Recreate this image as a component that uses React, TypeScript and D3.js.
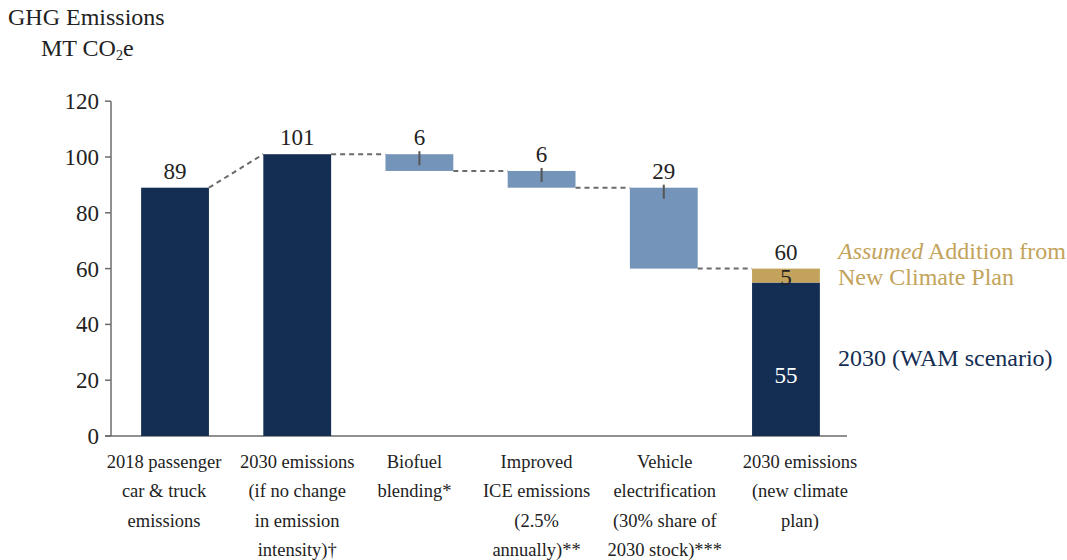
import React from "react";
import * as d3 from "d3";

const categories: string[][] = [
  ["2018 passenger", "car & truck", "emissions"],
  ["2030 emissions", "(if no change", "in emission", "intensity)†"],
  ["Biofuel", "blending*"],
  ["Improved", "ICE emissions", "(2.5%", "annually)**"],
  ["Vehicle", "electrification", "(30% share of", "2030 stock)***"],
  ["2030 emissions", "(new climate", "plan)"],
];
// kind: total bars, decrease bars, final stacked bar
const kinds = ["total", "total", "decrease", "decrease", "decrease", "final"];
const values = [89, 101, -6, -6, -29, 55];
const additions = [0, 0, 0, 0, 0, 5];
const yTicks = [0, 20, 40, 60, 80, 100, 120];

// layout: horizontal nudge of each category label relative to its bar centre
const LABEL_NUDGE = [-11, 0, -5, -5, 1, 14];

const NAVY = "#142d52";
const BLUE = "#7494ba";
const GOLD = "#c3a35b";
const AXIS = "#6b6b6b";
const FS = { fontFamily: "Liberation Serif" };
const BIG = 23;
const LEG = 24;
const CAT = 18.5;

export default function App() {
  const W = 1067, H = 560;
  const y = d3.scaleLinear().domain([0, 120]).range([436, 101.2]);
  const x = d3
    .scaleBand<number>()
    .domain(d3.range(categories.length))
    .range([114, 847])
    .paddingInner(0.445)
    .paddingOuter(0.222);

  let running = 0;
  const bars = values.map((v, i) => {
    const k = kinds[i];
    if (k === "total") {
      running = v;
      return { i, lo: 0, hi: v, color: NAVY, label: String(v), end: v };
    }
    if (k === "decrease") {
      const hi = running;
      const lo = running + v;
      running = lo;
      return { i, lo, hi, color: BLUE, label: String(-v), end: lo };
    }
    const total = v + additions[i];
    return { i, lo: 0, hi: v, color: NAVY, label: String(total), end: total };
  });

  const bw = x.bandwidth();

  const connectors: { x1: number; y1: number; x2: number; y2: number }[] = [];
  for (let i = 0; i < bars.length - 1; i++) {
    const a = bars[i];
    const b = bars[i + 1];
    const toV = kinds[i + 1] === "final" ? b.hi + additions[i + 1] : b.hi;
    connectors.push({
      x1: (x(i) as number) + bw,
      y1: y(a.end),
      x2: x(i + 1) as number,
      y2: y(toV),
    });
  }

  return (
    <svg
      width={W}
      height={H}
      style={{ position: "absolute", left: 0, top: 0, background: "#fff" }}
    >
      <text x={8} y={25} fontSize={LEG} fill="#222" style={FS}>GHG Emissions</text>
      <text x={41} y={56} fontSize={LEG} fill="#222" style={FS}>
        MT CO<tspan fontSize={14} dy={4}>2</tspan><tspan dy={-4}>e</tspan>
      </text>

      <line x1={111} x2={111} y1={y(120)} y2={y(0)} stroke={AXIS} strokeWidth={1.5} />
      {yTicks.map((t) => (
        <g key={t}>
          <line x1={105} x2={111} y1={y(t)} y2={y(t)} stroke={AXIS} strokeWidth={1.5} />
          <text x={99} y={y(t)} dy="0.35em" textAnchor="end" fontSize={BIG} fill="#222" style={FS}>
            {t}
          </text>
        </g>
      ))}
      <line x1={105} x2={847} y1={y(0)} y2={y(0)} stroke={AXIS} strokeWidth={1.5} />

      {connectors.map((c, i) => (
        <line
          key={i}
          x1={c.x1}
          y1={c.y1}
          x2={c.x2}
          y2={c.y2}
          stroke={AXIS}
          strokeWidth={2}
          strokeDasharray="5,4"
        />
      ))}

      {bars.map((b) => {
        const bx = x(b.i) as number;
        const cx = bx + bw / 2;
        const k = kinds[b.i];
        const topV = k === "final" ? b.hi + additions[b.i] : b.hi;
        return (
          <g key={b.i}>
            <rect x={bx} y={y(b.hi)} width={bw} height={y(b.lo) - y(b.hi)} fill={b.color} />
            {k === "final" && (
              <rect
                x={bx}
                y={y(b.hi + additions[b.i])}
                width={bw}
                height={y(b.hi) - y(b.hi + additions[b.i])}
                fill={GOLD}
              />
            )}
            {k === "decrease" && (
              <line x1={cx} x2={cx} y1={y(b.hi) - 3} y2={y(b.hi) + 11} stroke="#555" strokeWidth={2} />
            )}
            <text x={cx} y={y(topV) - 9} textAnchor="middle" fontSize={BIG} fill="#222" style={FS}>
              {b.label}
            </text>
            {k === "final" && (
              <>
                <text
                  x={cx}
                  y={(y(b.hi) + y(b.hi + additions[b.i])) / 2}
                  dy="0.4em"
                  textAnchor="middle"
                  fontSize={BIG}
                  fill="#222"
                  style={FS}
                >
                  {additions[b.i]}
                </text>
                <text x={cx} y={y(22)} dy="0.35em" textAnchor="middle" fontSize={BIG} fill="#fff" style={FS}>
                  {b.hi}
                </text>
              </>
            )}
          </g>
        );
      })}

      {categories.map((lines, i) => {
        const lx = (x(i) as number) + bw / 2 + LABEL_NUDGE[i];
        return (
          <text key={i} x={lx} textAnchor="middle" fontSize={CAT} fill="#222" style={FS}>
            {lines.map((l, j) => (
              <tspan key={j} x={lx} y={468 + j * 29.3}>
                {l}
              </tspan>
            ))}
          </text>
        );
      })}

      <text x={838} y={259} fontSize={LEG} fill={GOLD} style={FS}>
        <tspan fontStyle="italic">Assumed</tspan> Addition from
      </text>
      <text x={838} y={285} fontSize={LEG} fill={GOLD} style={FS}>New Climate Plan</text>
      <text x={838} y={366} fontSize={LEG} fill={NAVY} style={FS}>2030 (WAM scenario)</text>
    </svg>
  );
}
